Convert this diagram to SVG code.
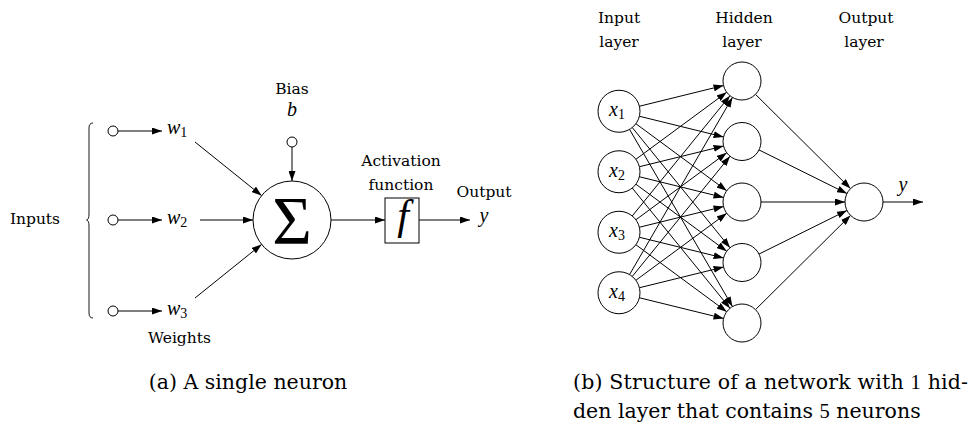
<svg xmlns="http://www.w3.org/2000/svg" width="977" height="427" viewBox="0 0 977 427">
  <style>
    .lbl { font-family: "DejaVu Serif", "Liberation Serif", serif; font-size: 15.5px; fill: #000; }
    .cap { font-family: "DejaVu Serif", "Liberation Serif", serif; font-size: 20.5px; fill: #000; }
    .num { font-family: "Liberation Serif", serif; }
    .m { font-family: "Liberation Serif", "DejaVu Serif", serif; font-style: italic; font-size: 20px; fill: #000; }
    .sub { font-style: normal; font-size: 14px; }
    .big { font-size: 42px; }
    .node { fill: #fff; stroke: #000; stroke-width: 1; }
    .edge { fill: none; stroke: #000; stroke-width: 1; marker-end: url(#ah); }
    .brace { fill: none; stroke: #000; stroke-width: 0.9; }
  </style>
  <defs>
    <marker id="ah" markerUnits="userSpaceOnUse" markerWidth="10" markerHeight="7" viewBox="0 0 10 7" refX="10" refY="3.5" orient="auto">
      <path d="M0,0 L10,3.5 L0,7 z" fill="#000"/>
    </marker>
  </defs>
  <rect width="977" height="427" fill="#fff"/>

  <!-- (a) single neuron -->
  <g id="neuron">
    <g id="inputs-label">
      <text class="lbl" x="10" y="224" textLength="50">Inputs</text>
      <path class="brace" d="M93,123 Q89,123 89,128 L89,214 Q89,219.5 86.5,220 Q89,220.5 89,226 L89,313 Q89,318 93,318"/>
    </g>
    <g id="in1"><circle class="node" cx="113" cy="131" r="5"/></g>
    <g id="in2"><circle class="node" cx="113" cy="220" r="5"/></g>
    <g id="in3"><circle class="node" cx="113" cy="311" r="5"/></g>
    <g id="w1"><text class="m" x="167" y="134">w<tspan class="sub" dy="3">1</tspan></text></g>
    <g id="w2"><text class="m" x="167" y="224">w<tspan class="sub" dy="3">2</tspan></text></g>
    <g id="w3"><text class="m" x="167" y="315">w<tspan class="sub" dy="3">3</tspan></text></g>
    <g id="weights-label"><text class="lbl" x="148" y="343" textLength="63">Weights</text></g>
    <g id="bias">
      <text class="lbl" x="292" y="94" text-anchor="middle">Bias</text>
      <text class="m" x="292" y="116" text-anchor="middle">b</text>
      <circle class="node" cx="292" cy="142" r="5"/>
    </g>
    <g id="sum">
      <circle class="node" cx="292" cy="220" r="39"/>
      <text x="292" y="243" text-anchor="middle" font-family="Liberation Serif, serif" font-size="68">Σ</text>
    </g>
    <g id="activation">
      <text class="lbl" x="401" y="166" text-anchor="middle">Activation</text>
      <text class="lbl" x="401" y="190" text-anchor="middle">function</text>
      <rect x="385" y="198" width="34" height="45" fill="#fff" stroke="#000" stroke-width="1"/>
      <text class="m big" x="403" y="229" text-anchor="middle">f</text>
    </g>
    <g id="output">
      <text class="lbl" x="484" y="197" text-anchor="middle">Output</text>
      <text class="m" x="484" y="222" text-anchor="middle">y</text>
    </g>
  </g>

  <g id="neuron-connectors">
    <line class="edge" x1="118" y1="131" x2="162" y2="131"/>
    <line class="edge" x1="118" y1="220" x2="162" y2="220"/>
    <line class="edge" x1="118" y1="311" x2="162" y2="311"/>
    <line class="edge" x1="195" y1="142" x2="261.6" y2="195.6"/>
    <line class="edge" x1="200" y1="220" x2="253" y2="220"/>
    <line class="edge" x1="195" y1="298" x2="261.6" y2="244.4"/>
    <line class="edge" x1="292" y1="147" x2="292" y2="181"/>
    <line class="edge" x1="331" y1="220" x2="385" y2="220"/>
    <line class="edge" x1="419" y1="220" x2="470" y2="220"/>
  </g>

  <!-- (b) network with one hidden layer -->
  <g id="layer-labels">
    <text class="lbl" x="619" y="22.7" text-anchor="middle">Input</text>
    <text class="lbl" x="619" y="46.7" text-anchor="middle">layer</text>
    <text class="lbl" x="744" y="22.7" text-anchor="middle">Hidden</text>
    <text class="lbl" x="742" y="46.7" text-anchor="middle">layer</text>
    <text class="lbl" x="866" y="22.7" text-anchor="middle">Output</text>
    <text class="lbl" x="864" y="46.7" text-anchor="middle">layer</text>
  </g>

  <g id="net-connectors">
    <!-- x1 -->
    <line class="edge" x1="639.39" y1="106.24" x2="723.55" y2="85.54"/>
    <line class="edge" x1="639.39" y1="116.26" x2="723.55" y2="136.96"/>
    <line class="edge" x1="635.90" y1="123.72" x2="726.71" y2="190.72"/>
    <line class="edge" x1="632.25" y1="127.54" x2="730.01" y2="247.76"/>
    <line class="edge" x1="629.55" y1="129.41" x2="732.46" y2="306.57"/>
    <!-- x2 -->
    <line class="edge" x1="635.90" y1="159.28" x2="726.71" y2="92.28"/>
    <line class="edge" x1="639.39" y1="166.74" x2="723.55" y2="146.04"/>
    <line class="edge" x1="639.39" y1="176.76" x2="723.55" y2="197.46"/>
    <line class="edge" x1="635.90" y1="184.22" x2="726.71" y2="251.22"/>
    <line class="edge" x1="632.25" y1="188.04" x2="730.01" y2="308.26"/>
    <!-- x3 -->
    <line class="edge" x1="632.25" y1="215.96" x2="730.01" y2="95.74"/>
    <line class="edge" x1="635.90" y1="219.78" x2="726.71" y2="152.78"/>
    <line class="edge" x1="639.39" y1="227.24" x2="723.55" y2="206.54"/>
    <line class="edge" x1="639.39" y1="237.26" x2="723.55" y2="257.96"/>
    <line class="edge" x1="635.90" y1="244.72" x2="726.71" y2="311.72"/>
    <!-- x4 -->
    <line class="edge" x1="629.55" y1="274.59" x2="732.46" y2="97.43"/>
    <line class="edge" x1="632.25" y1="276.46" x2="730.01" y2="156.24"/>
    <line class="edge" x1="635.90" y1="280.28" x2="726.71" y2="213.28"/>
    <line class="edge" x1="639.39" y1="287.74" x2="723.55" y2="267.04"/>
    <line class="edge" x1="639.39" y1="297.76" x2="723.55" y2="318.46"/>
    <!-- hidden to output -->
    <line class="edge" x1="755.49" y1="94.38" x2="850.51" y2="188.62"/>
    <line class="edge" x1="759.02" y1="149.94" x2="846.98" y2="193.56"/>
    <line class="edge" x1="761" y1="202" x2="845" y2="202"/>
    <line class="edge" x1="759.02" y1="254.06" x2="846.98" y2="210.44"/>
    <line class="edge" x1="755.49" y1="309.62" x2="850.51" y2="215.38"/>
    <line class="edge" x1="883" y1="202" x2="923" y2="202"/>
  </g>

  <g id="x1"><circle class="node" cx="619" cy="111.25" r="21"/><text class="m" x="617" y="116.25" text-anchor="middle">x<tspan class="sub" dy="3">1</tspan></text></g>
  <g id="x2"><circle class="node" cx="619" cy="171.75" r="21"/><text class="m" x="617" y="176.75" text-anchor="middle">x<tspan class="sub" dy="3">2</tspan></text></g>
  <g id="x3"><circle class="node" cx="619" cy="232.25" r="21"/><text class="m" x="617" y="237.25" text-anchor="middle">x<tspan class="sub" dy="3">3</tspan></text></g>
  <g id="x4"><circle class="node" cx="619" cy="292.75" r="21"/><text class="m" x="617" y="297.75" text-anchor="middle">x<tspan class="sub" dy="3">4</tspan></text></g>

  <g id="h1"><circle class="node" cx="742" cy="81" r="19"/></g>
  <g id="h2"><circle class="node" cx="742" cy="141.5" r="19"/></g>
  <g id="h3"><circle class="node" cx="742" cy="202" r="19"/></g>
  <g id="h4"><circle class="node" cx="742" cy="262.5" r="19"/></g>
  <g id="h5"><circle class="node" cx="742" cy="323" r="19"/></g>

  <g id="out"><circle class="node" cx="864" cy="202" r="19"/></g>
  <g id="out-y"><text class="m" x="903" y="191" text-anchor="middle">y</text></g>

  <!-- captions -->
  <g id="captions">
    <text class="cap" x="248" y="389" text-anchor="middle">(a) A single neuron</text>
    <text class="cap" x="573" y="389" textLength="395" lengthAdjust="spacing">(b) Structure of a network with <tspan class="num">1</tspan> hid-</text>
    <text class="cap" x="573" y="418">den layer that contains <tspan class="num">5</tspan> neurons</text>
  </g>
</svg>
